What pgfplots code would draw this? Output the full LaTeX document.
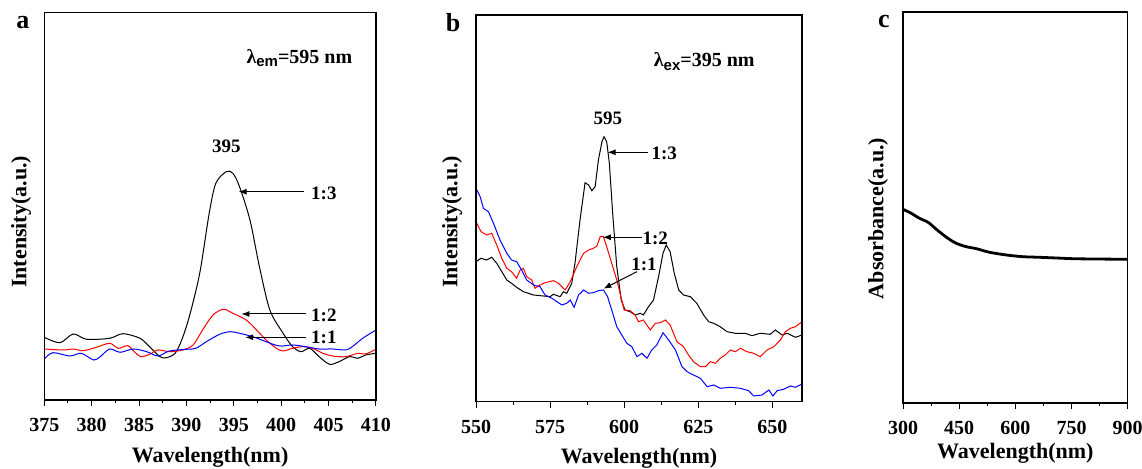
\documentclass[border=0pt]{standalone}
\usepackage{fontspec}
\setmainfont{Liberation Serif}
\newfontfamily\arial{Liberation Sans}
\usepackage{pgfplots}
\pgfplotsset{compat=1.18}
\usetikzlibrary{arrows.meta}

\tikzset{
  ann/.style={font=\bfseries\fontsize{9.5}{11}\selectfont},
  arr/.style={black, line width=0.5pt, -{Latex[length=4pt,width=3pt]}},
}
\pgfplotsset{
  panel/.style={
    scale only axis, anchor=south west,
    axis line style={line width=0.6pt},
    every tick/.style={black, line width=0.5pt},
    major tick length=3pt, minor tick length=1.7pt,
    xtick pos=left, ytick pos=left,
    xtick align=outside, ytick align=inside,
    ytick=\empty,
    /pgf/number format/assume math mode=true,
    xticklabel style={font=\bfseries\fontsize{10}{12}\selectfont, anchor=base, yshift=-12.8pt},
    xlabel style={font=\bfseries\fontsize{11}{13}\selectfont, anchor=base},
    ylabel style={font=\bfseries\fontsize{11}{13}\selectfont, anchor=center},
    xlabel={Wavelength(nm)},
  },
  rticks/.style={
    scale only axis, anchor=south west,
    axis line style={line width=0.6pt},
    every tick/.style={black, line width=0.5pt},
    minor tick length=1.7pt,
    xtick=\empty, ytick=\empty,
    ytick pos=right, ytick align=inside,
  },
}

\begin{document}
\begin{tikzpicture}

% ---------- panel a ----------
\begin{axis}[panel, at={(22.15pt,34.5pt)}, width=165.85pt, height=193.65pt,
  xmin=375, xmax=410, ymin=0, ymax=387.3,
  xtick={375,380,...,410}, minor x tick num=1,
  minor ytick={30,59.83,...,360},
  ylabel={Intensity(a.u.)},
  xlabel style={at={(axis description cs:0.5,0)}, yshift=-31.5pt},
  ylabel style={at={(axis description cs:-0.0702,0.46)}}]
\addplot[black, line width=0.5pt, smooth] coordinates {
 (375,62.7) (376.65,57.3) (378.05,66) (379.46,60.7) (381.9,61.7) (383.3,66.3)
 (385.1,61.7) (386.1,53.3) (387.2,43.3) (387.9,42.3) (388.8,46.7) (389.5,60)
 (390.3,83.3) (391.4,126.7) (392.4,186.7) (393.1,216.7) (394.2,228.3) (394.9,226.7)
 (395.6,213.3) (396.7,180) (397.7,133.3) (398.8,90) (400.2,66.7) (401.2,53.3)
 (402.1,48.3) (403.0,51.7) (404.0,43.3) (405.1,35.7) (406.1,38.3) (407.2,43.3)
 (408.1,41.7) (408.9,45) (410,46.7)};
\addplot[red, line width=0.5pt, smooth] coordinates {
 (375,51) (377,50) (378.05,51) (379.1,49.3) (380.5,52.7) (381.9,56.7) (382.8,51.7)
 (383.8,54.3) (384.5,48.3) (385.2,43.3) (386.1,45.7) (387.0,50) (388.2,48.3)
 (389.6,50) (390.7,55) (391.7,70) (392.8,85) (393.9,90.7) (394.9,86.7) (396.3,80)
 (397.4,70) (398.4,60) (399.5,51.7) (400.2,49) (401.2,51.7) (402.3,53.3) (403.3,51.7)
 (404.4,46.7) (405.4,44) (406.8,43.3) (408.1,46.7) (408.9,46) (410,50.7)};
\addplot[blue, line width=0.5pt, smooth] coordinates {
 (375,41) (375.9,47.3) (377.7,44) (378.9,46.7) (380.2,40) (380.9,43.3) (381.9,51)
 (383.0,47.7) (384.4,51) (385.8,48.3) (387.0,44) (388.2,49) (390.0,50.7) (391.0,51.7)
 (392.1,58.3) (393.5,65.7) (394.6,68.3) (395.6,66.7) (397.0,63.3) (398.4,58.3)
 (399.8,54) (401.2,55) (402.6,53.3) (404.0,51) (405.4,51) (406.8,50) (407.5,53.3)
 (408.6,61.7) (410,70)};
\node[ann] at (axis cs:394.2,253.3) {395};
\draw[arr] (axis cs:402.4,208.3) -- (axis cs:395.5,208.3);
\node[ann] at (axis cs:404.5,206.3) {1:3};
\draw[arr] (axis cs:402.6,86) -- (axis cs:395.8,86);
\node[ann] at (axis cs:404.5,84.7) {1:2};
\draw[arr] (axis cs:402.6,62.7) -- (axis cs:396.2,62.7);
\node[ann] at (axis cs:404.5,63) {1:1};
\node[anchor=base west, inner sep=0pt, font=\bfseries\fontsize{10}{12}\selectfont]
  at (axis cs:396.3,336.7) {λ\raisebox{-0.4ex}{\arial\bfseries\fontsize{7.5}{9}\selectfont em}=595 nm};
\end{axis}
\begin{axis}[rticks, at={(22.15pt,34.5pt)}, width=165.85pt, height=193.65pt,
  xmin=375, xmax=410, ymin=0, ymax=387.3, minor ytick={37.7,76.5,...,350}]
\end{axis}

% ---------- panel b ----------
\begin{axis}[panel, at={(238pt,33.65pt)}, width=163pt, height=193.35pt,
  xmin=550, xmax=660, ymin=0, ymax=386.7,
  xtick={550,575,...,650}, minor x tick num=1,
  minor ytick={21.7,58.9,...,360},
  ylabel={Intensity(a.u.)},
  xlabel style={at={(axis description cs:0.5,0)}, yshift=-30.8pt},
  ylabel style={at={(axis description cs:-0.0736,0.465)}}]
\addplot[black, line width=0.5pt] coordinates {
 (550,140) (551.7,143.4) (553.6,141.7) (555.3,144.4) (557.0,138.4) (558.7,130)
 (560.4,121.7) (562.0,118.4) (563.7,114.4) (566.0,110) (569.4,106.7) (572.7,105.7)
 (575.0,105) (576.1,107.4) (578.4,105) (579.5,110) (580.6,108.4) (582.3,118.4)
 (583.4,138.4) (585.1,181.7) (586.8,219) (588.0,216.7) (589.1,211) (590.2,215)
 (591.3,241.7) (592.5,260) (593.2,265) (594.1,260) (595.0,238.4) (596.2,185)
 (597.5,135) (599.0,101.7) (600.3,91.7) (602.0,90) (603.7,86.7) (605.4,88.4)
 (606.5,86.7) (608.2,95) (609.9,101.7) (611.6,125) (613.1,148.4) (614.2,156.7)
 (615.5,150) (616.9,128.4) (618.4,111.7) (620.0,106.7) (622.3,105) (624.5,98.4)
 (626.8,86.7) (628.5,80) (630.2,78.4) (632.4,75) (634.7,70) (637.5,68.4) (640.9,68.4)
 (643.1,66) (645.9,68.4) (649.3,67.4) (651.0,71.7) (653.3,66.7) (655.0,68.4)
 (657.8,64.4) (660,66.7)};
\addplot[red, line width=0.5pt] coordinates {
 (550,180) (551.7,170) (553.6,166.7) (555.3,168.4) (557.0,156.7) (558.7,143.4)
 (560.4,133.4) (562.0,130) (563.7,123.4) (564.9,131.7) (566.0,133.4) (567.1,125)
 (568.8,121.7) (569.9,113.4) (571.6,116.7) (573.3,119) (576.1,121) (577.8,118.4)
 (580.1,111.7) (581.8,120) (584.0,135) (586.3,148.4) (588.0,151.7) (589.6,153.4)
 (590.8,155.7) (591.9,165) (593.0,165) (594.1,155) (595.8,138.4) (597.5,121.7)
 (598.6,108.4) (600.0,91.7) (602.0,91) (603.7,86.7) (604.8,80) (606.5,81.7)
 (608.8,71.7) (610.5,78.4) (612.2,79) (613.9,81.7) (615.5,76.7) (617.8,60) (620.0,55)
 (621.7,46.7) (623.4,40) (625.7,35) (627.4,35) (629.1,40) (630.8,38.4) (632.4,43.4)
 (634.1,46.7) (635.8,51.7) (637.5,50) (639.2,53.4) (641.4,50) (643.7,48.4) (645.9,45)
 (648.2,51.7) (650.5,55) (652.7,61.7) (654.4,70) (656.1,73.4) (657.8,75) (660,80)};
\addplot[blue, line width=0.5pt] coordinates {
 (550,213.4) (551.4,205) (552.5,193.4) (554.2,190) (555.9,178.4) (558.1,161.7)
 (560.4,148.4) (562.0,141.7) (563.7,140) (565.4,131.7) (567.1,121.7) (569.4,116.7)
 (571.6,115) (573.3,106.7) (575.6,103.4) (577.3,100) (579.0,96.7) (580.6,98.4)
 (581.8,101.7) (583.1,94.4) (584.6,106.7) (586.3,111.7) (588.0,108.4) (589.6,109)
 (591.3,111) (593.0,111.7) (594.4,105) (595.8,91.7) (597.5,75) (599.2,66.7)
 (600.9,58.4) (602.6,55) (604.3,45) (606.0,48.4) (607.7,43.4) (609.3,51.7) (611.0,56.7)
 (613.1,69) (615.0,61.7) (617.3,51.7) (619.5,35) (621.2,30) (623.4,26.7) (625.7,23.4)
 (628.0,15) (630.2,16.7) (632.4,13.4) (635.8,14.4) (639.2,13.4) (642.0,11) (643.7,5.7)
 (646.5,6.7) (648.8,11.7) (650.2,5.7) (651.6,11) (653.8,12.4) (656.1,15.7)
 (657.8,14.4) (660,17.7)};
\node[ann] at (axis cs:594.5,283) {595};
\draw[arr] (axis cs:608.2,249.4) -- (axis cs:594.4,249.4);
\node[ann] at (axis cs:613.5,248.4) {1:3};
\draw[arr] (axis cs:606,164.4) -- (axis cs:592.8,164.4);
\node[ann] at (axis cs:610.5,163.4) {1:2};
\draw[arr] (axis cs:604.3,130) -- (axis cs:593.0,113);
\node[ann] at (axis cs:606.7,137.5) {1:1};
\node[anchor=base west, inner sep=0pt, font=\bfseries\fontsize{10}{12}\selectfont]
  at (axis cs:609.9,335) {λ\raisebox{-0.4ex}{\arial\bfseries\fontsize{7.5}{9}\selectfont ex}=395 nm};
\end{axis}
\begin{axis}[rticks, at={(238pt,33.65pt)}, width=163pt, height=193.35pt,
  xmin=550, xmax=660, ymin=0, ymax=386.7, minor ytick={38.4,77.15,...,350}]
\end{axis}

% ---------- panel c ----------
\begin{axis}[panel, at={(451.5pt,33pt)}, width=112.35pt, height=195.5pt,
  xmin=300, xmax=900, ymin=0, ymax=391,
  xtick={300,450,...,900}, minor x tick num=1,
  minor ytick={25.7,51.77,...,366},
  ylabel={Absorbance(a.u.)},
  xlabel style={at={(axis description cs:0.5,0)}, yshift=-28pt},
  ylabel style={at={(axis description cs:-0.111,0.472)}}]
\addplot[black, line width=1.4pt, smooth] coordinates {
 (300,193.7) (322,189.7) (344,184.7) (367,180.7) (389,173.7) (416,165.7) (442,159.7)
 (469,156.3) (496,154.3) (531,150.7) (576,148) (620,146.3) (664,145.7) (709,145)
 (753,144.3) (807,144) (900,143.7)};
\end{axis}
\begin{axis}[rticks, at={(451.5pt,33pt)}, width=112.35pt, height=195.5pt,
  xmin=300, xmax=900, ymin=0, ymax=391, minor ytick={38.7,77.9,...,355}]
\end{axis}

\node[font=\bfseries\fontsize{13}{15}\selectfont] at (11.5pt,223pt) {a};
\node[font=\bfseries\fontsize{13}{15}\selectfont] at (226.5pt,223.25pt) {b};
\node[font=\bfseries\fontsize{13}{15}\selectfont] at (441.9pt,223.7pt) {c};

\pgfresetboundingbox
\path[use as bounding box] (0,0) rectangle (571pt,234.5pt);
\end{tikzpicture}
\end{document}
